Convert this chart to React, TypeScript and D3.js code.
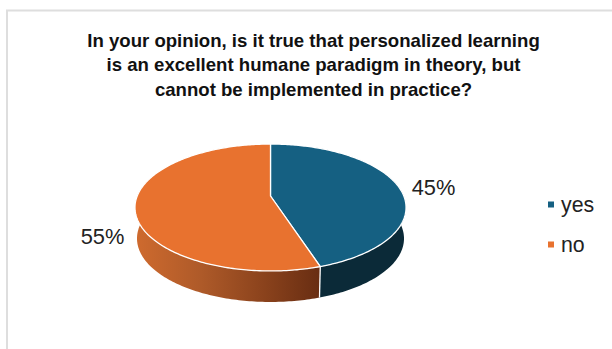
import React from "react";
import * as d3 from "d3";

const categories = ["yes", "no"];
const shares = [45, 55];
const topColors = ["#156082", "#E8722F"];
const titleLines = [
  "In your opinion, is it true that personalized learning",
  "is an excellent humane paradigm in theory, but",
  "cannot be implemented in practice?",
];

const W = 612;
const H = 349;
const cx = 270.5;
const cy = 196;
const radius = 133.3;
const lean = -0.181;
const squash = 61.4;
const depth = 31;

// Tilted-disc projection: the near rim is drawn larger than the far rim.
function project(angle: number, r = 1, drop = 0, shrink = 1): [number, number] {
  const u = Math.sin(angle) * r;
  const v = -Math.cos(angle) * r;
  const w = 1 + lean * v;
  return [cx + (shrink * radius * u) / w, cy + drop + (squash * v) / w];
}

const pieAngles = d3.pie<number>().sort(null)(shares);
const pathLine = d3.line<[number, number]>();

function rim(a0: number, a1: number, drop = 0, shrink = 1) {
  const n = Math.max(2, Math.ceil(Math.abs(a1 - a0) * 60));
  return d3.range(n + 1).map((i) => project(a0 + ((a1 - a0) * i) / n, 1, drop, shrink));
}

function topPath(a0: number, a1: number) {
  return pathLine([[cx, cy], ...rim(a0, a1)]) + "Z";
}

// Visible wall: the front half of the rim, from the right extreme round to the left.
function sidePath(a0: number, a1: number) {
  const lo = Math.max(a0, Math.PI * 0.42);
  const hi = Math.min(a1, Math.PI * 1.58);
  if (hi <= lo) return "";
  return pathLine([...rim(lo, hi), ...rim(hi, lo, depth, 0.985)]) + "Z";
}

const wallColors = ["#0B2A38", "url(#wallOrange)"];
const border = "#DEDEDE";
const font = "'Liberation Sans', Arial, sans-serif";

export default function App() {
  const boundary = pieAngles[0].endAngle;
  const [bx, by] = project(boundary);
  const [bx2, by2] = project(boundary, 1, depth, 0.985);
  return (
    <svg
      width={W}
      height={H}
      viewBox={`0 0 ${W} ${H}`}
      style={{ position: "absolute", left: 0, top: 0, background: "#fff" }}
      fontFamily={font}
    >
      <defs>
        <linearGradient id="wallOrange" gradientUnits="userSpaceOnUse" x1={137} x2={320} y1={0} y2={0}>
          <stop offset="0" stopColor="#CE6A2E" />
          <stop offset="0.35" stopColor="#AE5A29" />
          <stop offset="0.7" stopColor="#8A421C" />
          <stop offset="1" stopColor="#682D12" />
        </linearGradient>
      </defs>
      <path d={`M${W} 10.5H7V${H}`} fill="none" stroke={border} strokeWidth={2} />
      {pieAngles.map((p, i) => (
        <path key={`wall-${categories[i]}`} d={sidePath(p.startAngle, p.endAngle)} fill={wallColors[i]} />
      ))}
      <line x1={bx} y1={by} x2={bx2} y2={by2} stroke="#fff" strokeWidth={1.3} />
      {pieAngles.map((p, i) => (
        <path
          key={`top-${categories[i]}`}
          d={topPath(p.startAngle, p.endAngle)}
          fill={topColors[i]}
          stroke="#fff"
          strokeWidth={1.3}
          strokeLinejoin="round"
        />
      ))}
      {titleLines.map((t, i) => (
        <text key={t} x={313.5} y={47 + i * 24.4} textAnchor="middle" fontSize={18.6} fontWeight="bold" fill="#111">
          {t}
        </text>
      ))}
      <text x={433.5} y={195} textAnchor="middle" fontSize={21.8} fill="#222">{`${shares[0]}%`}</text>
      <text x={102.5} y={243.5} textAnchor="middle" fontSize={21.8} fill="#222">{`${shares[1]}%`}</text>
      {categories.map((c, i) => (
        <g key={c}>
          <rect x={548} y={201.5 + i * 40} width={6} height={6} fill={topColors[i]} />
          <text x={561} y={211.5 + i * 40} fontSize={21.3} fill="#222">
            {c}
          </text>
        </g>
      ))}
    </svg>
  );
}
